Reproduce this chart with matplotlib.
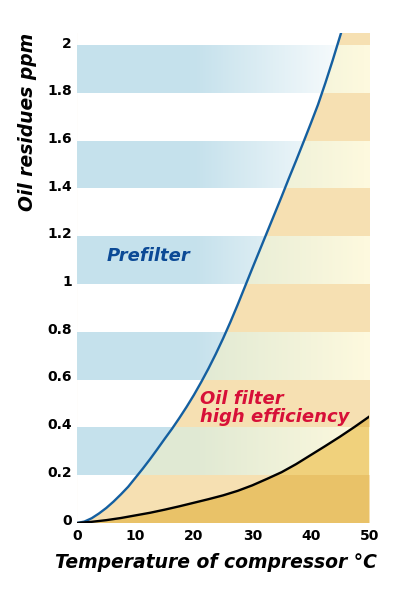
import numpy as np
import matplotlib
matplotlib.use('Agg')
import matplotlib.pyplot as plt
from matplotlib.transforms import ScaledTranslation

# ---- data ----
blue_x = [0, 1.25, 2.5, 3.75, 5, 6.25, 7.5, 8.75, 10, 11.25, 12.5, 13.75, 15, 16.25, 17.5, 18.75,
          20, 21.25, 22.5, 23.75, 25, 26.25, 27.5, 28.75, 30, 31.25, 32.5, 33.75, 35, 36.25, 37.5,
          38.75, 40, 41.25, 42.5, 43.75, 45, 46.25]
blue_y = [0, 0.006, 0.02, 0.04, 0.063, 0.09, 0.12, 0.152, 0.19, 0.228, 0.268, 0.31, 0.353, 0.395,
          0.44, 0.487, 0.537, 0.591, 0.648, 0.709, 0.774, 0.843, 0.916, 0.992, 1.068, 1.143, 1.218,
          1.293, 1.368, 1.445, 1.52, 1.597, 1.675, 1.755, 1.845, 1.94, 2.04, 2.14]
black_x = [0, 2.5, 5, 7.5, 10, 12.5, 15, 17.5, 20, 22.5, 25, 27.5, 30, 32.5, 35, 37.5, 40, 42.5,
           45, 47.5, 50]
black_y = [0, 0.005, 0.012, 0.021, 0.032, 0.043, 0.056, 0.07, 0.085, 0.1, 0.116, 0.135, 0.158,
           0.185, 0.213, 0.247, 0.285, 0.323, 0.362, 0.403, 0.446]
x_ticks = [0, 10, 20, 30, 40, 50]
x_tick_labels = ['0', '10', '20', '30', '40', '50']
y_ticks = [0, 0.2, 0.4, 0.6, 0.8, 1.0, 1.2, 1.4, 1.6, 1.8, 2.0]
y_tick_labels = ['0', '0.2', '0.4', '0.6', '0.8', '1', '1.2', '1.4', '1.6', '1.8', '2']
band_step = 0.2
xmax, ymax = 50, 2.055

# ---- colours ----
white = np.array([255, 255, 255]) / 255
blue_band = np.array([197, 225, 236]) / 255
cream = np.array([253, 249, 222]) / 255
green = np.array([224, 233, 211]) / 255
beige = np.array([246, 224, 178]) / 255
gold_light = np.array([240, 209, 124]) / 255
gold_dark = np.array([233, 194, 104]) / 255

fig = plt.figure(figsize=(4.12, 6.0), dpi=100)
ax = fig.add_axes([0.187, 0.1283, 0.709, 0.8167])

nx, ny = 600, 2055
xs = (np.arange(nx) + 0.5) * xmax / nx
ys = (np.arange(ny) + 0.5) * ymax / ny
light = (np.floor(ys / band_step).astype(int) % 2 == 1)[:, None, None]
a = np.clip((49 - xs) / (49 - 20), 0, 1)[None, :, None]

imgA = np.where(light, white + a * (blue_band - white), white)
imgB = np.where(light, cream + a * (green - cream), beige)
imgC = np.where(light, gold_light, gold_dark)
imgC = np.broadcast_to(imgC, (ny, nx, 3))

ext = [0, xmax, 0, ymax]
ax.imshow(imgB, extent=ext, origin='lower', aspect='auto', interpolation='nearest', zorder=0)
imA = ax.imshow(imgA, extent=ext, origin='lower', aspect='auto', interpolation='nearest', zorder=1)
imC = ax.imshow(imgC, extent=ext, origin='lower', aspect='auto', interpolation='nearest', zorder=2)

polyA = ax.fill_between(blue_x, blue_y, ymax, facecolor='none', edgecolor='none')
imA.set_clip_path(polyA.get_paths()[0], transform=ax.transData)
polyC = ax.fill_between(black_x, 0, black_y, facecolor='none', edgecolor='none')
imC.set_clip_path(polyC.get_paths()[0], transform=ax.transData)

ax.plot(blue_x, blue_y, color='#145fa0', lw=1.7, zorder=4, solid_joinstyle='round')
ax.plot(black_x, black_y, color='black', lw=1.7, zorder=4, solid_joinstyle='round')

ax.set_xlim(0, xmax)
ax.set_ylim(0, ymax)
for s in ax.spines.values():
    s.set_visible(False)

ax.set_xticks(x_ticks, x_tick_labels, fontsize=10, fontweight='bold')
ax.set_yticks(y_ticks, y_tick_labels, fontsize=10, fontweight='bold')
ax.tick_params(length=0)
ax.tick_params(axis='y', pad=3.6)
ax.tick_params(axis='x', pad=4)
for lab in ax.get_yticklabels():
    lab.set_transform(lab.get_transform() + ScaledTranslation(0, 0.04, fig.dpi_scale_trans))

ax.text(5.1, 1.12, 'Prefilter', color='#0c4a96', fontsize=13, fontweight='bold',
        fontstyle='italic', va='center', ha='left', zorder=5)
ax.text(21.1, 0.483, 'Oil filter\nhigh efficiency', color='#d71038', fontsize=13,
        fontweight='bold', fontstyle='italic', va='center', ha='left', linespacing=1.0, zorder=5)

fig.text(28 / 412, 1 - 122 / 600, 'Oil residues ppm', rotation=90, fontsize=13.5,
         fontweight='bold', fontstyle='italic', ha='center', va='center')
fig.text(216 / 412, 1 - 563 / 600, 'Temperature of compressor °C', fontsize=13.5,
         fontweight='bold', fontstyle='italic', ha='center', va='center')

fig.savefig('out.png', dpi=100)
